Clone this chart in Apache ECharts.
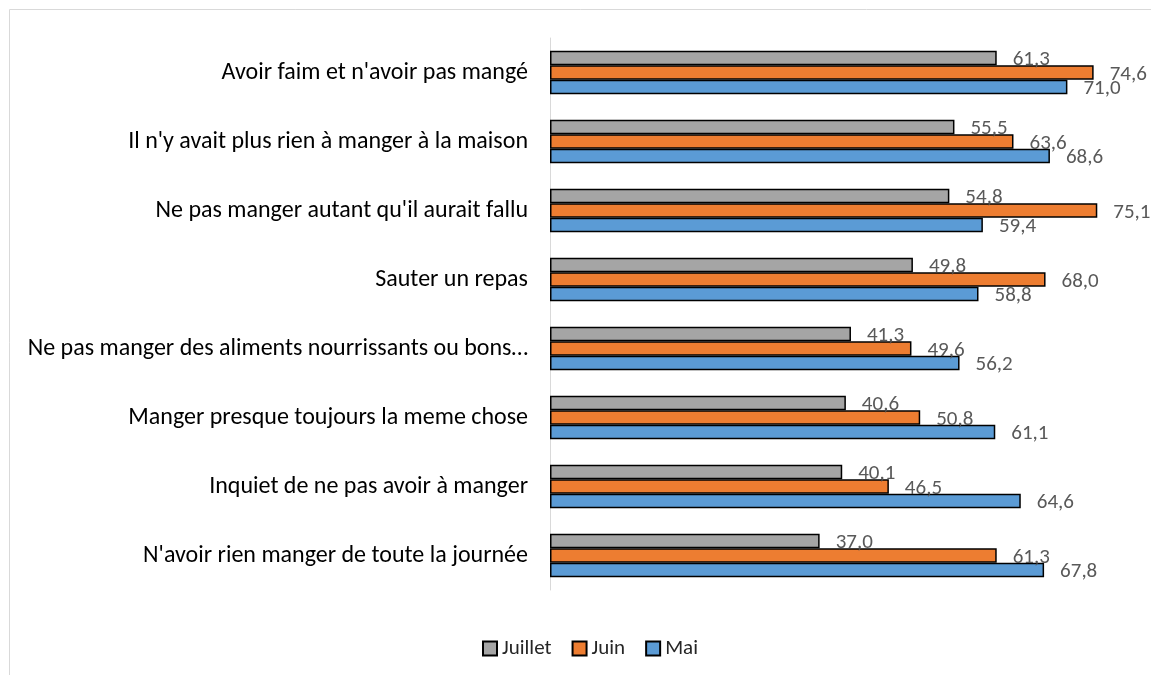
<!DOCTYPE html>
<html><head><meta charset="utf-8">
<script src="https://cdn.jsdelivr.net/npm/echarts@6/dist/echarts.min.js"></script>
<style>html,body{margin:0;padding:0;background:#fff}#c{width:1151px;height:675px}</style>
</head><body><div id="c"></div>
<script>
const categories = [
  "Avoir faim et n'avoir pas mangé",
  "Il n'y avait plus rien à manger à la maison",
  "Ne pas manger autant qu'il aurait fallu",
  "Sauter un repas",
  "Ne pas manger des aliments nourrissants ou bons…",
  "Manger presque toujours la meme chose",
  "Inquiet de ne pas avoir à manger",
  "N'avoir rien manger de toute la journée"
];
const juillet = [61.3, 55.5, 54.8, 49.8, 41.3, 40.6, 40.1, 37.0];
const juin    = [74.6, 63.6, 75.1, 68.0, 49.6, 50.8, 46.5, 61.3];
const mai     = [71.0, 68.6, 59.4, 58.8, 56.2, 61.1, 64.6, 67.8];

const font = "Carlito, Lato, 'Noto Sans', sans-serif";
const fmt = p => p.value.toFixed(1).replace('.', ',');
function mk(name, data, color) {
  return {
    name, type: 'bar', data,
    barCategoryGap: '37%', barGap: '0%',
    itemStyle: { color, borderColor: '#000', borderWidth: 1.5 },
    label: { show: true, position: 'right', distance: 16, formatter: fmt,
      color: '#595959', fontSize: 21, fontFamily: font, offset: [0, 2] },
    emphasis: { disabled: true }, animation: false
  };
}
const chart = echarts.init(document.getElementById('c'));
chart.setOption({
  animation: false,
  graphic: [{ type: 'rect', shape: { x: 9.5, y: 9.5, width: 1300, height: 800 },
    style: { fill: 'none', stroke: '#d9d9d9', lineWidth: 1 }, silent: true }],
  grid: { left: 550, top: 38, width: 583, height: 552 },
  legend: {
    left: 477, top: 633, itemWidth: 14, itemHeight: 14, itemGap: 20, icon: 'rect',
    textStyle: { fontSize: 21, color: '#262626', fontFamily: font },
    data: ['Juillet', 'Juin', 'Mai']
  },
  xAxis: { type: 'value', min: 0, max: 80, show: false, splitLine: { show: false } },
  yAxis: {
    type: 'category', data: categories, inverse: true,
    axisLine: { lineStyle: { color: '#d9d9d9', width: 1 } },
    axisTick: { show: false },
    axisLabel: { fontSize: 24, color: '#000', fontFamily: font, margin: 22 }
  },
  series: [mk('Juillet', juillet, '#A5A5A5'), mk('Juin', juin, '#ED7D31'), mk('Mai', mai, '#5B9BD5')]
});
</script></body></html>
